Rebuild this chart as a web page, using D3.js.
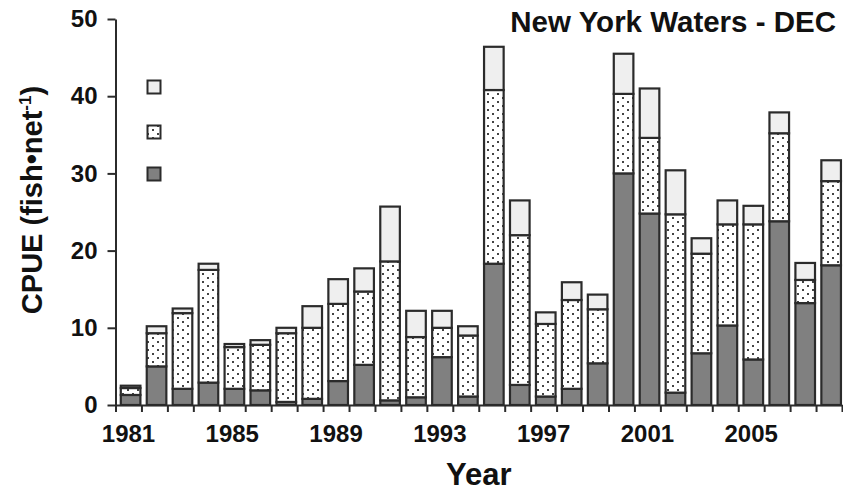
<!DOCTYPE html>
<html>
<head>
<meta charset="utf-8">
<script src="https://cdn.jsdelivr.net/npm/d3@7"></script>
<style>
  html, body { margin: 0; padding: 0; background: #fff; }
  svg { display: block; }
  text { font-family: "Liberation Sans", Arial, sans-serif; font-weight: bold; fill: #111; }
</style>
</head>
<body>
<svg id="chart" width="843" height="495"></svg>
<script>
// Catch per unit effort by year, stacked in three components
const years = [1981, 1982, 1983, 1984, 1985, 1986, 1987, 1988, 1989, 1990,
               1991, 1992, 1993, 1994, 1995, 1996, 1997, 1998, 1999, 2000,
               2001, 2002, 2003, 2004, 2005, 2006, 2007, 2008];
const bottomSeries = [1.3, 5.0, 2.1, 2.9, 2.1, 1.9, 0.4, 0.8, 3.1, 5.2,
                      0.6, 1.0, 6.2, 1.1, 18.3, 2.6, 1.1, 2.1, 5.4, 30.0,
                      24.8, 1.6, 6.7, 10.3, 5.9, 23.8, 13.2, 18.1];
const middleSeries = [0.9, 4.3, 9.8, 14.6, 5.4, 5.9, 8.9, 9.2, 10.0, 9.5,
                      18.0, 7.8, 3.8, 7.9, 22.5, 19.4, 9.4, 11.5, 7.0, 10.3,
                      9.8, 23.1, 12.9, 13.1, 17.5, 11.4, 3.0, 10.9];
const topSeries = [0.3, 0.9, 0.6, 0.8, 0.4, 0.6, 0.7, 2.8, 3.2, 3.0,
                   7.1, 3.4, 2.2, 1.2, 5.6, 4.5, 1.5, 2.3, 1.9, 5.2,
                   6.4, 5.7, 2.0, 3.1, 2.4, 2.7, 2.2, 2.7];
const yTicks = [0, 10, 20, 30, 40, 50];
const yearLabels = [1981, 1985, 1989, 1993, 1997, 2001, 2005];

const svg = d3.select("#chart");

// fills
const defs = svg.append("defs");
const dots = defs.append("pattern")
  .attr("id", "dots")
  .attr("patternUnits", "userSpaceOnUse")
  .attr("width", 10).attr("height", 8);
dots.append("rect").attr("width", 10).attr("height", 8).attr("fill", "#ffffff");
dots.append("rect").attr("x", 2).attr("y", 1).attr("width", 2).attr("height", 2).attr("fill", "#444");
dots.append("rect").attr("x", 7).attr("y", 5).attr("width", 2).attr("height", 2).attr("fill", "#444");

const fills = ["#808080", "url(#dots)", "#efefef"];
const strokeCol = "#2b2b2b";

// plot frame
const plotLeft = 115.5, plotRight = 842, plotTop = 19, plotBottom = 405;
const x = d3.scaleBand().domain(years).range([plotLeft, plotRight]).padding(0);
const xEdge = d3.scaleLinear().domain([0, years.length]).range([plotLeft, plotRight]);
const y = d3.scaleLinear().domain([0, 50]).range([plotBottom, plotTop]);

// stacked layout
const rows = years.map((yr, i) => ({ year: yr, a: bottomSeries[i], b: middleSeries[i], c: topSeries[i] }));
const stack = d3.stack().keys(["a", "b", "c"])(rows);

const barOffset = 5.3, barWidth = 19.6;
stack.forEach((layer, k) => {
  svg.append("g").selectAll("rect")
    .data(layer)
    .join("rect")
    .attr("x", d => x(d.data.year) + barOffset)
    .attr("width", barWidth)
    .attr("y", d => y(d[1]))
    .attr("height", d => y(d[0]) - y(d[1]))
    .attr("fill", fills[k])
    .attr("stroke", strokeCol)
    .attr("stroke-width", 2.2);
});

// y axis
const yAxis = svg.append("g")
  .attr("transform", `translate(${plotLeft},0)`)
  .call(d3.axisLeft(y).tickValues(yTicks).tickSize(8).tickSizeOuter(0).tickPadding(10));
yAxis.select(".domain").attr("stroke", strokeCol).attr("stroke-width", 2);
yAxis.selectAll(".tick line").attr("stroke", strokeCol).attr("stroke-width", 2);
yAxis.selectAll(".tick text").attr("font-size", 24).style("font-weight", "bold").attr("fill", "#111");

// x axis: boundary ticks
const xAxis = svg.append("g")
  .attr("transform", `translate(0,${plotBottom})`)
  .call(d3.axisBottom(xEdge).tickValues(d3.range(years.length + 1)).tickFormat("").tickSize(7).tickSizeOuter(0));
xAxis.select(".domain").attr("stroke", strokeCol).attr("stroke-width", 2);
xAxis.selectAll(".tick line").attr("stroke", strokeCol).attr("stroke-width", 2);

// x axis: year labels centred under bars
const xLabels = svg.append("g")
  .attr("transform", `translate(0,${plotBottom})`)
  .call(d3.axisBottom(x).tickValues(yearLabels).tickSize(0));
xLabels.select(".domain").remove();
xLabels.selectAll(".tick text")
  .attr("y", 37).attr("dy", 0)
  .attr("font-size", 24).style("font-weight", "bold").attr("fill", "#111");

// axis titles
svg.append("text")
  .attr("x", (plotLeft + plotRight) / 2).attr("y", 485)
  .attr("text-anchor", "middle")
  .attr("font-size", 31)
  .text("Year");

const yTitle = svg.append("text")
  .attr("transform", "translate(42,200) rotate(-90)")
  .attr("text-anchor", "middle")
  .attr("font-size", 29);
yTitle.append("tspan").text("CPUE (fish\u2022net");
yTitle.append("tspan").attr("font-size", 17).attr("dy", -11).text("-1");
yTitle.append("tspan").attr("dy", 11).text(")");

// chart title
svg.append("text")
  .attr("x", 836).attr("y", 32)
  .attr("text-anchor", "end")
  .attr("font-size", 29.5)
  .text("New York Waters - DEC");

// key swatches
const keyY = [167.5, 125.5, 80.5];
svg.append("g").selectAll("rect")
  .data(fills)
  .join("rect")
  .attr("x", 147.5)
  .attr("y", (d, i) => keyY[i])
  .attr("width", 13).attr("height", 13)
  .attr("fill", d => d)
  .attr("stroke", strokeCol)
  .attr("stroke-width", 2);
</script>
</body>
</html>
